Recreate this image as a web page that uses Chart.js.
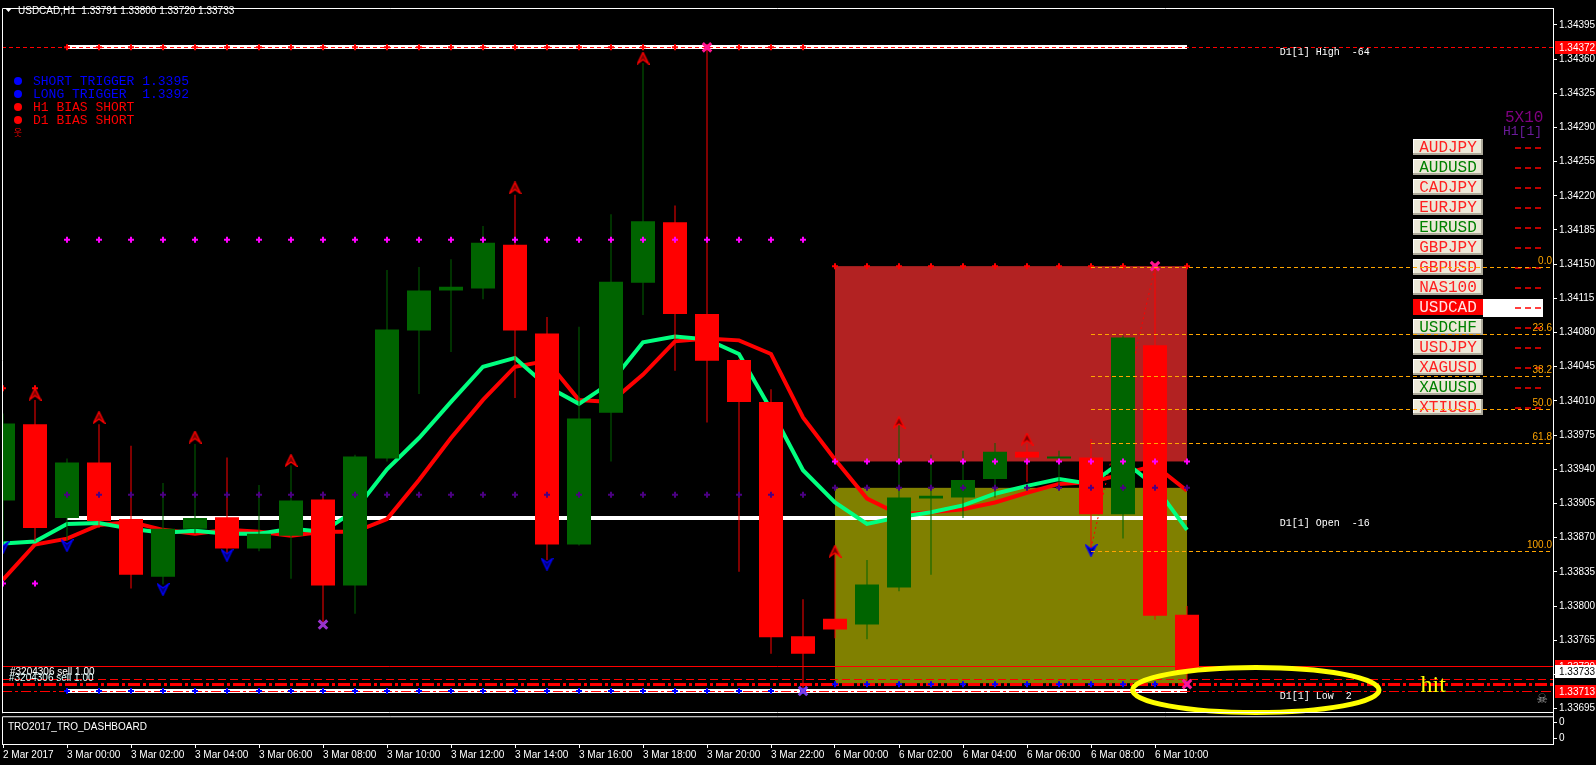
<!DOCTYPE html>
<html>
<head>
<meta charset="utf-8">
<title>USDCAD,H1</title>
<script src="https://cdn.jsdelivr.net/npm/chart.js@4.4.1/dist/chart.umd.min.js"></script>
<style>
  html, body { margin: 0; padding: 0; background: #000; overflow: hidden; }
  canvas { display: block; }
</style>
</head>
<body>
<canvas id="grafica" width="1596" height="765"></canvas>
<script>
// H1 bars, index 0 = 2 Mar 22:00 ... index 37 = 6 Mar 11:00
const opens  = [1.33908,1.33986,1.33890,1.33947,1.33889,1.33830,1.33879,1.33891,1.33859,1.33872,
                1.33909,1.33821,1.33951,1.34082,1.34123,1.34125,1.34170,1.34079,1.33863,1.33998,
                1.34131,1.34193,1.34099,1.34052,1.34009,1.33769,1.33787,1.33781,1.33819,1.33910,
                1.33911,1.33930,1.33958,1.33951,1.33952,1.33894,1.34067,1.33791];
const highs  = [1.33997,1.34011,1.33951,1.33986,1.33964,1.33926,1.33966,1.33952,1.33924,1.33944,
                1.33917,1.33955,1.34144,1.34147,1.34155,1.34189,1.34221,1.34096,1.34086,1.34201,
                1.34356,1.34210,1.34372,1.34053,1.34022,1.33807,1.33854,1.33847,1.33986,1.33955,
                1.33959,1.33967,1.33966,1.33959,1.33971,1.34077,1.34147,1.33800];
const lows   = [1.33863,1.33866,1.33867,1.33880,1.33818,1.33822,1.33874,1.33853,1.33856,1.33828,
                1.33781,1.33792,1.33948,1.34017,1.34060,1.34114,1.34013,1.33847,1.33862,1.33948,
                1.34098,1.34041,1.33988,1.33835,1.33751,1.33713,1.33767,1.33766,1.33815,1.33832,
                1.33890,1.33911,1.33927,1.33922,1.33859,1.33869,1.33786,1.33720];
const closes = [1.33987,1.33880,1.33947,1.33887,1.33832,1.33879,1.33890,1.33859,1.33874,1.33908,
                1.33821,1.33953,1.34083,1.34123,1.34127,1.34172,1.34082,1.33863,1.33992,1.34132,
                1.34194,1.34099,1.34051,1.34009,1.33768,1.33751,1.33776,1.33822,1.33911,1.33913,
                1.33929,1.33958,1.33952,1.33953,1.33894,1.34075,1.33790,1.33733];

// moving averages (fast = spring green, slow = red)
const maFast = [1.33864,1.33866,1.33884,1.33885,1.33879,1.33875,1.33877,1.33874,1.33874,1.33879,
                1.33876,1.33898,1.33940,1.33972,1.34009,1.34045,1.34054,1.34025,1.34007,1.34029,
                1.34070,1.34076,1.34073,1.34058,1.34001,1.33939,1.33906,1.33884,1.33891,1.33896,
                1.33903,1.33915,1.33923,1.33930,1.33925,1.33949,1.33923,1.33878];
const maSlow = [1.33827,1.33863,1.33869,1.33883,1.33886,1.33878,1.33874,1.33878,1.33876,1.33872,
                1.33876,1.33876,1.33889,1.33929,1.33972,1.34011,1.34045,1.34051,1.34011,1.34009,
                1.34037,1.34071,1.34074,1.34072,1.34058,1.33993,1.33950,1.33910,1.33894,1.33896,
                1.33899,1.33906,1.33916,1.33925,1.33927,1.33935,1.33944,1.33918];

// axis ticks
const priceTicks = [1.34395,1.34360,1.34325,1.34290,1.34255,1.34220,1.34185,1.34150,1.34115,1.34080,
                    1.34045,1.34010,1.33975,1.33940,1.33905,1.33870,1.33835,1.33800,1.33765,1.33730,1.33695];
const timeTickIdx = [0,2,4,6,8,10,12,14,16,18,20,22,24,26,28,30,32,34,36];
const timeTickLabels = ['2 Mar 2017','3 Mar 00:00','3 Mar 02:00','3 Mar 04:00','3 Mar 06:00','3 Mar 08:00',
                        '3 Mar 10:00','3 Mar 12:00','3 Mar 14:00','3 Mar 16:00','3 Mar 18:00','3 Mar 20:00',
                        '3 Mar 22:00','6 Mar 00:00','6 Mar 02:00','6 Mar 04:00','6 Mar 06:00','6 Mar 08:00',
                        '6 Mar 10:00'];
const subTicks = [0.71, 0.19];

// daily levels
const d1High = 1.34372, d1Open = 1.33890, d1Low = 1.33713;
const orderLine = 1.33739, stopLine = 1.33725, targetLine = 1.33720;
const sellZone = [1.34148, 1.33948];
const buyZone  = [1.33921, 1.33721];
const zoneBars = [26, 37];
const lineBars = [2, 37];

// fibonacci from bar 34 low to bar 36 high
const fibStartBar = 34;
const fibLabels = ['0.0','23.6','38.2','50.0','61.8','100.0'];
const fibPrices = [1.34147,1.34078,1.34035,1.34002,1.33967,1.33856];
const fibAnchorBars = [34, 36];
const fibAnchorPrices = [1.33859, 1.34147];

// signal markers
const upArrowBars    = [1,3,6,9,16,20,26,28,32];
const upArrowPrices  = [1.34017,1.33993,1.33973,1.33949,1.34228,1.34361,1.33856,1.33988,1.33971];
const downArrowBars  = [0,2,5,7,17,34];
const downArrowPrices= [1.33860,1.33862,1.33817,1.33852,1.33843,1.33857];
const crossBars   = [10,22,25,36,37];
const crossPrices = [1.33781,1.34372,1.33713,1.34148,1.33720];

const friBars = [2,3,4,5,6,7,8,9,10,11,12,13,14,15,16,17,18,19,20,21,22,23,24,25];
const monBars = [26,27,28,29,30,31,32,33,34,35,36,37];
const thuBars = [0,1];
const friLevels = {high: 1.34372, upper: 1.34175, lower: 1.33914, low: 1.33713};
const monLevels = {high: 1.34148, upper: 1.33948, lower: 1.33921, low: 1.33720};
const thuLevels = {high: 1.34023, upper: 1.33823};

// dashboard
const pairs    = ['AUDJPY','AUDUSD','CADJPY','EURJPY','EURUSD','GBPJPY','GBPUSD','NAS100','USDCAD','USDCHF','USDJPY','XAGUSD','XAUUSD','XTIUSD'];
const pairBias = ['S','L','S','S','L','S','S','S','S','L','S','S','L','S'];
const activePair = 'USDCAD';

const signalLabels = ['SHORT TRIGGER 1.3395','LONG TRIGGER  1.3392','H1 BIAS SHORT','D1 BIAS SHORT'];
const signalColors = ['#0000FF','#0000FF','#FF0000','#FF0000'];

const tagPrices = [1.34372, 1.33739, 1.33733, 1.33713];

const FONT = "'Liberation Sans', Arial, sans-serif";
const MONO = "'Liberation Mono', 'Courier New', monospace";

const candleColors = closes.map((c, i) => c >= opens[i] ? '#006400' : '#FF0000');

function arrowImage(color, up) {
  const cv = document.createElement('canvas');
  cv.width = 13; cv.height = 13;
  const g = cv.getContext('2d');
  if (!up) { g.translate(0, 13); g.scale(1, -1); }
  g.beginPath();
  g.moveTo(6.5, 0.8); g.lineTo(12, 12); g.lineTo(6.5, 8); g.lineTo(1, 12); g.closePath();
  g.fillStyle = up ? '#7a0000' : '#00007a';
  g.fill();
  g.strokeStyle = color; g.lineWidth = 1.4; g.stroke();
  return cv;
}

function dots(bars, price, color, style) {
  return {
    label: 'dots', data: bars.map(b => ({x: b, y: price})), showLine: false,
    pointStyle: style || 'cross', pointRadius: 3, pointBorderWidth: 2,
    pointBorderColor: color, pointBackgroundColor: color, order: 1
  };
}

function hline(c, x1, x2, y, color, width, dash) {
  c.beginPath();
  c.setLineDash(dash || []);
  c.strokeStyle = color;
  c.lineWidth = width;
  const yy = width % 2 ? Math.round(y) + 0.5 : Math.round(y);
  c.moveTo(x1, yy); c.lineTo(x2, yy);
  c.stroke();
  c.setLineDash([]);
}

const mt4Overlay = {
  id: 'mt4Overlay',
  beforeDraw(chart) {
    const c = chart.ctx;
    c.save();
    c.fillStyle = '#000';
    c.fillRect(0, 0, chart.width, chart.height);
    c.restore();
  },
  beforeDatasetsDraw(chart) {
    const c = chart.ctx, x = chart.scales.x, y = chart.scales.y;
    const X = v => x.getPixelForValue(v), Y = v => y.getPixelForValue(v);
    const L = chart.chartArea.left, R = chart.chartArea.right;
    c.save();
    // zones
    c.fillStyle = '#B22222';
    c.fillRect(X(zoneBars[0]), Y(sellZone[0]), X(zoneBars[1]) - X(zoneBars[0]), Y(sellZone[1]) - Y(sellZone[0]));
    c.fillStyle = '#808000';
    c.fillRect(X(zoneBars[0]), Y(buyZone[0]), X(zoneBars[1]) - X(zoneBars[0]), Y(buyZone[1]) - Y(buyZone[0]));
    // daily lines
    hline(c, X(lineBars[0]), X(lineBars[1]), Y(d1High), '#FFFFFF', 4);
    hline(c, X(lineBars[0]), X(lineBars[1]), Y(d1Open), '#FFFFFF', 4);
    hline(c, X(lineBars[0]), X(lineBars[1]), Y(d1Low), '#FFFFFF', 4);
    hline(c, L, R, Y(d1High), '#FF0000', 1, [4, 3]);
    hline(c, L, R, Y(orderLine), '#FF0000', 1);
    hline(c, L, R, Y(stopLine), '#FF0000', 1, [8, 4]);
    hline(c, L, R, Y(targetLine), '#FF0000', 3, [12, 3, 3, 3]);
    hline(c, L, R, Y(d1Low), '#FF0000', 1, [10, 3, 3, 3]);
    c.restore();
  },
  afterDatasetsDraw(chart) {
    const c = chart.ctx, x = chart.scales.x, y = chart.scales.y, sub = chart.scales.sub;
    const X = v => x.getPixelForValue(v), Y = v => y.getPixelForValue(v);
    const L = chart.chartArea.left, R = chart.chartArea.right;
    c.save();

    // dashboard buttons
    const bx = R - 140, bw = 70, bh = 16;
    pairs.forEach((p, k) => {
      const top = y.top + 131 + k * 20;
      const active = p === activePair;
      if (active) {
        c.fillStyle = '#FFFFFF';
        c.fillRect(bx + bw, top, 60, bh + 2);
      }
      c.fillStyle = active ? '#FF0000' : '#ECE9D8';
      c.fillRect(bx, top, bw, bh);
      if (!active) {
        c.fillStyle = '#FFFFFF';
        c.fillRect(bx, top, bw, 1); c.fillRect(bx, top, 1, bh);
        c.fillStyle = '#ACA899';
        c.fillRect(bx, top + bh - 2, bw, 2); c.fillRect(bx + bw - 2, top, 2, bh);
      }
      c.font = '16px ' + MONO;
      c.textAlign = 'center'; c.textBaseline = 'middle';
      c.fillStyle = active ? '#FFE4E4' : (pairBias[k] === 'L' ? '#008000' : '#FF2020');
      c.fillText(p, bx + bw / 2, top + bh / 2 + 1);
      // bias dashes
      c.strokeStyle = '#FF0000'; c.lineWidth = 1.5;
      [0, 10, 20].forEach(o => {
        c.beginPath();
        c.moveTo(R - 38 + o, top + 9); c.lineTo(R - 32 + o, top + 9);
        c.stroke();
      });
    });

    // fibonacci levels
    fibPrices.forEach((p, k) => {
      hline(c, X(fibStartBar), R, Y(p), '#FFA500', 1, [4, 3]);
      c.font = '10px ' + FONT;
      c.fillStyle = '#FFA500';
      c.textAlign = 'right'; c.textBaseline = 'alphabetic';
      c.fillText(fibLabels[k], R - 1, Y(p) - 3);
    });

    // daily level captions
    c.font = '10px ' + MONO;
    c.fillStyle = '#FFFFFF';
    c.textAlign = 'left'; c.textBaseline = 'top';
    c.fillText('D1[1] High  -64', X(39.9), Y(d1High) + 0);
    c.fillText('D1[1] Open  -16', X(39.9), Y(d1Open) + 0);
    c.fillText('D1[1] Low  2', X(39.9), Y(d1Low) + 0);

    // header
    c.fillStyle = '#FFFFFF';
    c.beginPath(); c.moveTo(5, 8); c.lineTo(12, 8); c.lineTo(8.5, 12); c.closePath(); c.fill();
    c.font = '10px ' + FONT;
    c.textBaseline = 'alphabetic';
    const n = closes.length - 1;
    c.fillText('USDCAD,H1  ' + [opens[n], highs[n], lows[n], closes[n]].map(v => v.toFixed(5)).join(' '), 18, 14);

    // signal legend
    c.font = '13px ' + MONO;
    signalLabels.forEach((t, k) => {
      const yy = 81 + k * 13;
      c.fillStyle = signalColors[k];
      c.beginPath(); c.arc(18, yy, 4, 0, Math.PI * 2); c.fill();
      c.textBaseline = 'middle';
      c.fillText(t, 33, yy + 1);
    });
    c.font = '9px "Noto Sans CJK KR", sans-serif';
    c.fillStyle = '#FF0000';
    c.textAlign = 'center';
    c.fillText('\uC6C3', 18, 133);

    // 5X10 caption
    c.textAlign = 'left'; c.textBaseline = 'alphabetic';
    c.font = '16px ' + MONO; c.fillStyle = '#800080';
    c.fillText('5X10', R - 48, Y(1.34290) - 5);
    c.font = '13px ' + MONO; c.fillStyle = '#6A1B9A';
    c.fillText('H1[1]', R - 50, Y(1.34290) + 8);

    // hit ellipse
    const cx = X(39.15), cy = Y(1.33714);
    c.strokeStyle = '#FFFF00'; c.lineWidth = 5;
    c.beginPath();
    c.ellipse(cx, cy, X(43.0) - cx, Y(1.33691) - cy, 0, 0, Math.PI * 2);
    c.stroke();
    c.font = '24px "Liberation Serif", serif';
    c.fillStyle = '#FFFF00';
    c.fillText('hit', X(44.3), Y(d1Low) + 1);

    // order captions
    c.font = '10px ' + FONT;
    c.fillStyle = '#FFFFFF';
    c.fillText('#3204306 sell 1.00', 10, Y(stopLine) - 4);
    c.fillStyle = '#E0FFFF';
    c.fillText('#3204306 sell 1.00', 9, Y(stopLine) + 2);

    // skull
    c.font = '13px "DejaVu Sans", sans-serif';
    c.fillStyle = '#A0A0A0';
    c.textAlign = 'center';
    c.fillText('\u2620', R - 11, Y(1.33695) - 6);

    // price tags on the scale
    const tagStyles = [['#FF0000', '#FFFFFF'], ['#FF0000', '#FFFFFF'], ['#FFFFFF', '#000000'], ['#FF0000', '#FFFFFF']];
    tagPrices.forEach((p, k) => {
      const ty = Math.round(Y(p));
      c.fillStyle = tagStyles[k][0];
      c.fillRect(R + 2, ty - 6, chart.width - R - 2, 13);
      c.fillStyle = tagStyles[k][1];
      c.font = '10px ' + FONT;
      c.textAlign = 'left'; c.textBaseline = 'middle';
      c.fillText(p.toFixed(5), R + 6, ty + 1);
    });

    // pane frames
    c.strokeStyle = '#FFFFFF'; c.lineWidth = 1;
    c.beginPath();
    c.moveTo(L + 0.5, y.bottom); c.lineTo(L + 0.5, y.top + 0.5); c.lineTo(R, y.top + 0.5);
    c.moveTo(L, Math.round(y.bottom) - 0.5); c.lineTo(R, Math.round(y.bottom) - 0.5);
    c.moveTo(L + 0.5, sub.bottom); c.lineTo(L + 0.5, sub.top + 3.5); c.lineTo(R, sub.top + 3.5);
    c.stroke();

    // indicator window caption
    c.font = '10px ' + FONT;
    c.fillStyle = '#FFFFFF';
    c.textAlign = 'left'; c.textBaseline = 'middle';
    c.fillText('TRO2017_TRO_DASHBOARD', 8, sub.top + 14);

    c.restore();
  }
};

new Chart(document.getElementById('grafica'), {
  type: 'line',
  data: {
    datasets: [
      {type: 'bar', label: 'wicks', data: highs.map((h, i) => ({x: i, y: [lows[i], h]})),
       backgroundColor: candleColors, barThickness: 1, grouped: false, borderWidth: 0, inflateAmount: 0, order: 3},
      {type: 'bar', label: 'bodies', data: opens.map((o, i) => ({x: i, y: [o, closes[i]]})),
       backgroundColor: candleColors, barThickness: 24, minBarLength: 2, grouped: false, borderWidth: 0, inflateAmount: 0, order: 2},
      {label: 'MA fast', data: maFast.map((v, i) => ({x: i, y: v})), borderColor: '#00FF7F', borderWidth: 4,
       pointRadius: 0, tension: 0, order: 5},
      {label: 'MA slow', data: maSlow.map((v, i) => ({x: i, y: v})), borderColor: '#FF0000', borderWidth: 4,
       pointRadius: 0, tension: 0, order: 5},
      {label: 'fib anchor', data: fibAnchorBars.map((b, k) => ({x: b, y: fibAnchorPrices[k]})), borderColor: '#FF0000',
       borderWidth: 1, borderDash: [2, 3], pointRadius: 0, order: 6},
      dots(friBars, friLevels.high, '#FF0000'),
      dots(friBars, friLevels.upper, '#FF00FF'),
      dots(friBars, friLevels.lower, '#4B0082'),
      dots(friBars, friLevels.low, '#0000FF'),
      dots(monBars, monLevels.high, '#FF0000'),
      dots(monBars, monLevels.upper, '#FF00FF'),
      dots(monBars, monLevels.lower, '#4B0082'),
      dots(monBars, monLevels.low, '#0000FF'),
      dots(thuBars, thuLevels.high, '#FF0000'),
      dots(thuBars, thuLevels.upper, '#FF00FF'),
      {label: 'up arrows', data: upArrowBars.map((b, k) => ({x: b, y: upArrowPrices[k]})), showLine: false,
       pointStyle: arrowImage('#FF0000', true), order: 0},
      {label: 'down arrows', data: downArrowBars.map((b, k) => ({x: b, y: downArrowPrices[k]})), showLine: false,
       pointStyle: arrowImage('#0000FF', false), order: 0},
      {label: 'hits', data: crossBars.map((b, k) => ({x: b, y: crossPrices[k]})), showLine: false,
       pointStyle: 'crossRot', pointRadius: 6, pointBorderWidth: 3,
       pointBorderColor: ['#9932CC', '#FF1493', '#7B3FE4', '#FF1493', '#FF1493'], order: 0}
    ]
  },
  options: {
    responsive: false,
    animation: false,
    events: [],
    layout: {autoPadding: false, padding: {left: 2, top: 2, right: 0, bottom: 0}},
    plugins: {legend: {display: false}, tooltip: {enabled: false}},
    scales: {
      x: {
        type: 'linear', position: 'bottom', offset: false,
        min: -0.03125, max: 48.4375,
        afterBuildTicks: s => { s.ticks = timeTickIdx.map(v => ({value: v})); },
        afterFit: s => { s.height = 21; },
        ticks: {color: '#FFFFFF', font: {family: FONT, size: 10}, align: 'start', padding: 1,
                maxRotation: 0, autoSkip: false, callback: (v, k) => timeTickLabels[k]},
        grid: {drawOnChartArea: false, drawTicks: true, tickLength: 4, color: '#FFFFFF', offset: false},
        border: {color: '#FFFFFF'}
      },
      y: {
        type: 'linear', position: 'right', stack: 'pane', stackWeight: 711,
        min: 1.336902, max: 1.344123,
        afterBuildTicks: s => { s.ticks = priceTicks.map(v => ({value: v})); },
        afterFit: s => { s.width = 43; },
        ticks: {color: '#FFFFFF', font: {family: FONT, size: 10}, padding: 2, autoSkip: false,
                callback: v => v.toFixed(5)},
        grid: {drawOnChartArea: false, drawTicks: true, tickLength: 4, color: '#FFFFFF'},
        border: {color: '#FFFFFF'}
      },
      sub: {
        type: 'linear', position: 'right', stack: 'pane', stackWeight: 31,
        min: 0, max: 1,
        afterBuildTicks: s => { s.ticks = subTicks.map(v => ({value: v})); },
        afterFit: s => { s.width = 43; },
        ticks: {color: '#FFFFFF', font: {family: FONT, size: 10}, padding: 2, autoSkip: false,
                callback: () => '0'},
        grid: {drawOnChartArea: false, drawTicks: true, tickLength: 4, color: '#FFFFFF'},
        border: {color: '#FFFFFF'}
      }
    }
  },
  plugins: [mt4Overlay]
});
</script>
</body>
</html>
